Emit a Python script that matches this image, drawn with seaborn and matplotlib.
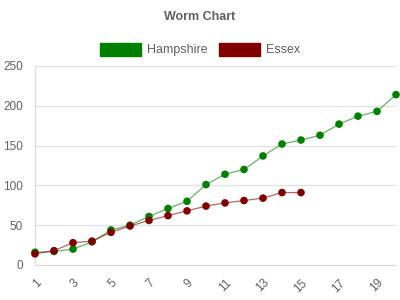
import matplotlib
matplotlib.use("Agg")
import matplotlib.pyplot as plt
import seaborn as sns
import pandas as pd
from matplotlib.patches import Patch

x_vals = list(range(1, 21))
hampshire = [16, 17, 20, 29, 44, 50, 61, 71, 80, 101, 114, 120, 137, 152, 157, 163, 177, 187, 193, 214]
essex_x = list(range(1, 16))
essex = [14, 18, 28, 30, 41, 49, 56, 62, 68, 74, 78, 81, 84, 91, 91]
series_names = ["Hampshire", "Essex"]
colors = {"Hampshire": "#008000", "Essex": "#800000"}

df = pd.concat([
    pd.DataFrame({"x": x_vals, "y": hampshire, "series": "Hampshire"}),
    pd.DataFrame({"x": essex_x, "y": essex, "series": "Essex"}),
])

sns.set_style("white")
plt.rcParams['font.family'] = ['Liberation Sans', 'DejaVu Sans']

fig = plt.figure(figsize=(4, 3), dpi=100)
ax = fig.add_axes([0.0875, 0.1167, 0.9025, 0.6633])

sns.lineplot(data=df, x="x", y="y", hue="series", palette=colors, ax=ax,
             linewidth=0.9, alpha=0.6, legend=False, zorder=2)
sns.scatterplot(data=df, x="x", y="y", hue="series", palette=colors, ax=ax,
                s=30, edgecolor="none", legend=False, zorder=3, clip_on=False)

ax.set_xlim(1, 20)
ax.set_ylim(0, 250)
ax.set_yticks([0, 50, 100, 150, 200, 250])
ax.set_xticks(list(range(1, 20, 2)))
ax.set_xticklabels([str(v) for v in range(1, 20, 2)], rotation=45, ha="right",
                   rotation_mode="anchor")
ax.grid(axis="y", color="#e0e0e0", linewidth=0.9)
ax.set_axisbelow(True)
for s in ["top", "right"]:
    ax.spines[s].set_visible(False)
ax.spines["left"].set_color("#d8d8d8")
ax.spines["bottom"].set_color("#d8d8d8")
ax.tick_params(axis="both", colors="#d8d8d8", labelcolor="#606060", labelsize=8.5,
               length=5, width=0.9, direction="out")
ax.set_xlabel("")
ax.set_ylabel("")

fig.text(0.5, 0.943, "Worm Chart", ha="center", va="center", fontsize=9,
         fontweight="bold", color="#606060")

handles = [Patch(facecolor=colors[n], edgecolor=colors[n], label=n) for n in series_names]
fig.legend(handles=handles, loc="center", bbox_to_anchor=(0.5, 0.835), ncol=2,
           frameon=False, handlelength=3.3, handleheight=1.2, fontsize=9,
           labelcolor="#606060", columnspacing=0.9, handletextpad=0.45)

fig.savefig("out.png", dpi=100)
